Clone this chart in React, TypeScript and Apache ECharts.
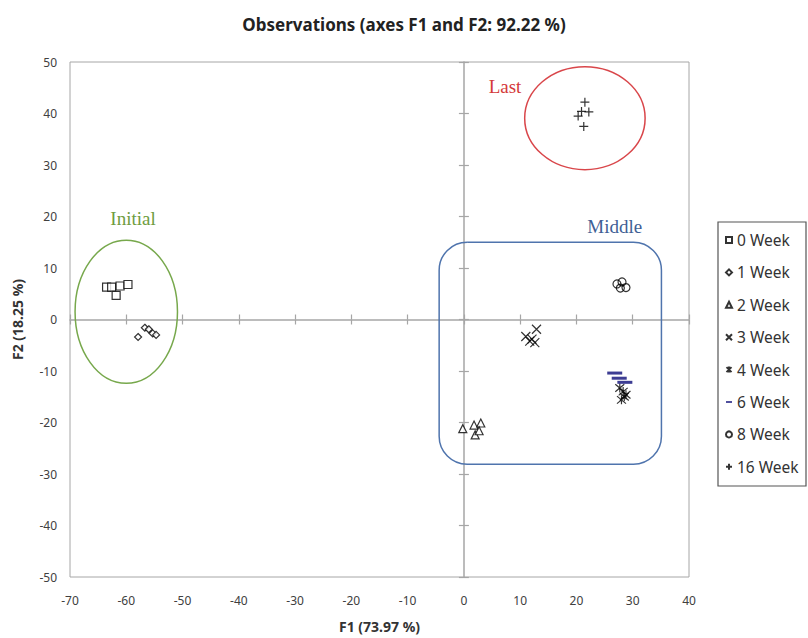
import React, { useEffect, useRef } from "react";
import * as echarts from "echarts";

// ---- axis ranges / ticks ----
const X_MIN = -70;
const X_MAX = 40;
const X_STEP = 10;
const Y_MIN = -50;
const Y_MAX = 50;
const Y_STEP = 10;

// ---- observations (F1, F2) ----
const week0 = [[-63.5, 6.3], [-62.6, 6.3], [-61.8, 4.7], [-61.1, 6.5], [-59.7, 6.8]];
const week1 = [[-57.9, -3.4], [-56.7, -1.6], [-56.0, -1.9], [-55.3, -2.7], [-54.7, -3.0]];
const week2 = [[-0.2, -21.2], [1.8, -20.5], [3.0, -20.1], [2.0, -22.4], [2.7, -21.6]];
const week3 = [[12.9, -1.9], [11.0, -3.3], [11.7, -4.2], [12.6, -4.5], [12.1, -3.8]];
const week4 = [[27.7, -13.3], [28.3, -14.0], [28.8, -14.6], [28.0, -15.6], [28.5, -15.0]];
const week6 = [[26.8, -10.4], [27.6, -11.4], [28.6, -12.2]];
const week8 = [[27.2, 6.9], [28.1, 7.3], [28.8, 6.2], [27.8, 6.1]];
const week16 = [[21.5, 42.2], [20.9, 40.4], [22.2, 40.3], [20.3, 39.5], [21.3, 37.5]];

const seriesNames = ["0 Week", "1 Week", "2 Week", "3 Week", "4 Week", "6 Week", "8 Week", "16 Week"];

// ---- group annotations (data units) ----
const initialEllipse = { cx: -60, cy: 1.5, rx: 9.1, ry: 13.9 };
const lastEllipse = { cx: 21.5, cy: 39.1, rx: 10.7, ry: 10.0 };
const middleBox = { x0: -4.4, x1: 35.1, y0: 15.0, y1: -28.1 };
const groupLabels = [
  { text: "Initial", at: [-58.8, 19.7], color: "#6e9c40" },
  { text: "Last", at: [7.3, 45.2], color: "#d43a3a" },
  { text: "Middle", at: [26.8, 18.0], color: "#3f5f95" },
];

const SYM_X = "path://M0,0L10,10M10,0L0,10";
const SYM_PLUS = "path://M5,0L5,10M0,5L10,5";
const SYM_AST = "path://M0,0L10,10M10,0L0,10M5,-1L5,11";

const FONT = "'Noto Sans', 'Open Sans', sans-serif";

export default function App() {
  const ref = useRef<HTMLDivElement>(null);

  useEffect(() => {
    if (!ref.current) return;
    const chart = echarts.init(ref.current, null, { renderer: "svg" });

    const hollow = (color = "#000") => ({ color: "#fff", borderColor: color, borderWidth: 1.2 });
    const stroked = { color: "transparent", borderColor: "#000", borderWidth: 1.2 };

    const baseX = { type: "value", min: X_MIN, max: X_MAX, interval: X_STEP, splitLine: { show: false } };
    const baseY = { type: "value", min: Y_MIN, max: Y_MAX, interval: Y_STEP, splitLine: { show: false } };
    const axisGray = "#a6a6a6";

    const option: any = {
      animation: false,
      title: {
        text: "Observations (axes F1 and F2: 92.22 %)",
        left: "center",
        top: 11,
        textStyle: { fontFamily: FONT, fontSize: 17, fontWeight: "bold", color: "#222" },
      },
      grid: {
        left: 70,
        top: 62,
        width: 619,
        height: 518,
        show: true,
        borderColor: axisGray,
        borderWidth: 1,
        backgroundColor: "transparent",
      },
      legend: {
        orient: "vertical",
        left: 725,
        top: 231,
        padding: 0,
        itemWidth: 6,
        itemHeight: 6,
        itemGap: 14.4,
        textStyle: { fontFamily: FONT, fontSize: 15.5, color: "#333", lineHeight: 18 },
        data: seriesNames.map((n) =>
          n === "6 Week" ? { name: n, icon: "path://M0,0h10v3h-10z" } : { name: n }
        ),
      },
      xAxis: [
        {
          ...baseX,
          position: "bottom",
          name: "F1 (73.97 %)",
          nameLocation: "middle",
          nameGap: 42,
          nameTextStyle: { fontFamily: FONT, fontSize: 14, fontWeight: "bold", color: "#333" },
          axisLine: { show: false, onZero: false },
          axisTick: { show: false },
          axisLabel: { margin: 17, fontFamily: FONT, fontSize: 12, color: "#404040" },
        },
        {
          ...baseX,
          position: "bottom",
          axisLine: { show: true, onZero: true, onZeroAxisIndex: 0, lineStyle: { color: axisGray, width: 1.5 } },
          axisTick: { show: true, inside: false, length: 5, lineStyle: { color: axisGray, width: 1.2 } },
          axisLabel: { show: false },
        },
        {
          ...baseX,
          position: "bottom",
          axisLine: { show: false, onZero: true, onZeroAxisIndex: 0 },
          axisTick: { show: true, inside: true, length: 5, lineStyle: { color: axisGray, width: 1.2 } },
          axisLabel: { show: false },
        },
      ],
      yAxis: [
        {
          ...baseY,
          position: "left",
          name: "F2 (18.25 %)",
          nameLocation: "middle",
          nameGap: 46,
          nameRotate: 90,
          nameTextStyle: { fontFamily: FONT, fontSize: 14, fontWeight: "bold", color: "#333" },
          axisLine: { show: false, onZero: false },
          axisTick: { show: false },
          axisLabel: { margin: 13, fontFamily: FONT, fontSize: 12, color: "#404040" },
        },
        {
          ...baseY,
          position: "left",
          axisLine: { show: true, onZero: true, onZeroAxisIndex: 0, lineStyle: { color: axisGray, width: 1.5 } },
          axisTick: { show: true, inside: false, length: 5, lineStyle: { color: axisGray, width: 1.2 } },
          axisLabel: { show: false },
        },
        {
          ...baseY,
          position: "left",
          axisLine: { show: false, onZero: true, onZeroAxisIndex: 0 },
          axisTick: { show: true, inside: true, length: 5, lineStyle: { color: axisGray, width: 1.2 } },
          axisLabel: { show: false },
        },
      ],
      series: [
        { name: "0 Week", type: "scatter", data: week0, symbol: "rect", symbolSize: 8, itemStyle: hollow() },
        { name: "1 Week", type: "scatter", data: week1, symbol: "diamond", symbolSize: 7, itemStyle: hollow() },
        { name: "2 Week", type: "scatter", data: week2, symbol: "triangle", symbolSize: 8, itemStyle: hollow() },
        { name: "3 Week", type: "scatter", data: week3, symbol: SYM_X, symbolSize: 9, itemStyle: stroked },
        { name: "4 Week", type: "scatter", data: week4, symbol: SYM_AST, symbolSize: 9, itemStyle: stroked },
        { name: "6 Week", type: "scatter", data: week6, symbol: "rect", symbolSize: [15, 3], itemStyle: { color: "#0c0c78" } },
        { name: "8 Week", type: "scatter", data: week8, symbol: "circle", symbolSize: 8, itemStyle: { color: "transparent", borderColor: "#000", borderWidth: 1.2 } },
        { name: "16 Week", type: "scatter", data: week16, symbol: SYM_PLUS, symbolSize: 9, itemStyle: stroked },
      ],
    };
    chart.setOption(option);

    const toPx = (p: number[]) => chart.convertToPixel({ xAxisIndex: 0, yAxisIndex: 0 }, p) as number[];
    const ellipseGraphic = (e: any, color: string) => {
      const c = toPx([e.cx, e.cy]);
      const ex = toPx([e.cx + e.rx, e.cy]);
      const ey = toPx([e.cx, e.cy + e.ry]);
      return {
        type: "ellipse",
        shape: { cx: c[0], cy: c[1], rx: Math.abs(ex[0] - c[0]), ry: Math.abs(c[1] - ey[1]) },
        style: { fill: "none", stroke: color, lineWidth: 1.5 },
        z: 10,
      };
    };
    const b0 = toPx([middleBox.x0, middleBox.y0]);
    const b1 = toPx([middleBox.x1, middleBox.y1]);

    const graphic: any[] = [
      ellipseGraphic(initialEllipse, "#77a84c"),
      ellipseGraphic(lastEllipse, "#d9464a"),
      {
        type: "rect",
        shape: { x: b0[0], y: b0[1], width: b1[0] - b0[0], height: b1[1] - b0[1], r: 28 },
        style: { fill: "none", stroke: "#4f74ad", lineWidth: 1.5 },
        z: 10,
      },
      {
        type: "rect",
        shape: { x: 718, y: 222, width: 88, height: 264 },
        style: { fill: "none", stroke: "#555", lineWidth: 1.2 },
        z: 10,
      },
      ...groupLabels.map((g) => {
        const p = toPx(g.at);
        return {
          type: "text",
          x: p[0],
          y: p[1],
          style: {
            text: g.text,
            fill: g.color,
            font: "19px 'Liberation Serif', 'Times New Roman', serif",
            align: "center",
            verticalAlign: "middle",
          },
          z: 10,
        };
      }),
    ];
    chart.setOption({ graphic });

    return () => chart.dispose();
  }, []);

  return (
    <div
      ref={ref}
      style={{ position: "absolute", left: 0, top: 0, width: 808, height: 638 }}
    />
  );
}
